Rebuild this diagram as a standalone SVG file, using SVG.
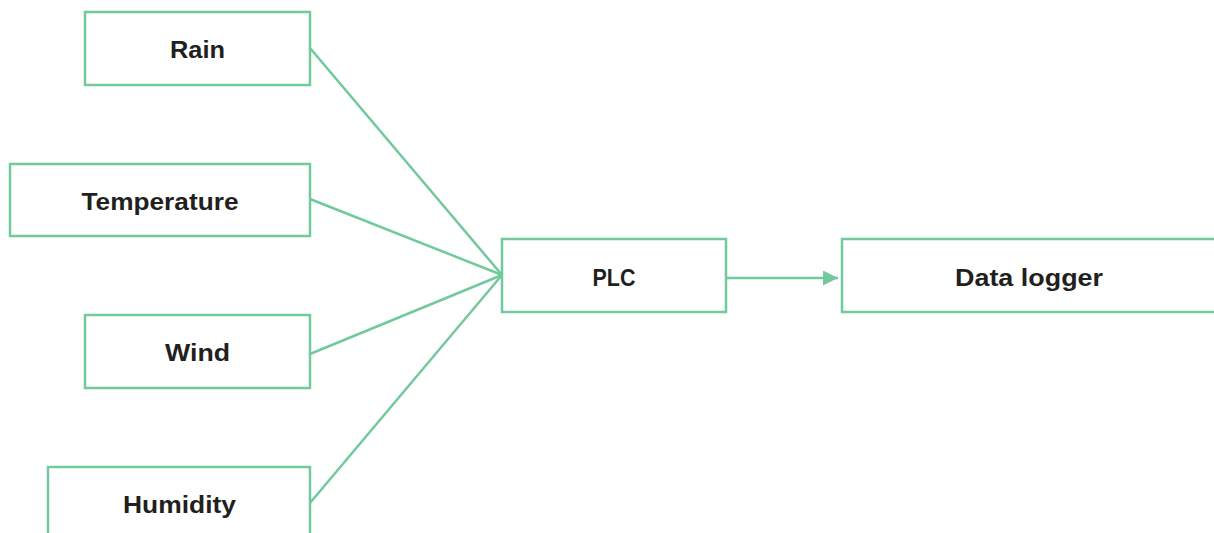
<svg xmlns="http://www.w3.org/2000/svg" width="1214" height="533" viewBox="0 0 1214 533">
<style>
.box{fill:#ffffff;stroke:#72c99b;stroke-width:2.5}
.lbl{font-family:"Liberation Sans",Arial,sans-serif;font-weight:bold;font-size:24px;fill:#231f20;text-anchor:middle}
.conn{stroke:#72c99b;stroke-width:2.5;fill:none}
</style>
<defs>
<marker id="arr" viewBox="0 0 10 10" refX="10" refY="5" markerWidth="7" markerHeight="6" markerUnits="strokeWidth" orient="auto">
<path d="M0,0 L10,5 L0,10 z" fill="#72c99b"/>
</marker>
</defs>
<rect x="0" y="0" width="1214" height="533" fill="#ffffff"/>
<g id="connectors">
<line class="conn" x1="310" y1="48" x2="502" y2="275"/>
<line class="conn" x1="310" y1="199" x2="502" y2="275"/>
<line class="conn" x1="310" y1="354" x2="502" y2="275"/>
<line class="conn" x1="310" y1="503" x2="502" y2="275"/>
<line class="conn" x1="726" y1="278" x2="838" y2="278" marker-end="url(#arr)"/>
</g>
<g id="rain">
<rect class="box" x="85" y="12" width="225" height="73"/>
<text class="lbl" x="197.5" y="58" textLength="55" lengthAdjust="spacingAndGlyphs">Rain</text>
</g>
<g id="temperature">
<rect class="box" x="10" y="164" width="300" height="72"/>
<text class="lbl" x="160" y="210" textLength="157" lengthAdjust="spacingAndGlyphs">Temperature</text>
</g>
<g id="wind">
<rect class="box" x="85" y="315" width="225" height="73"/>
<text class="lbl" x="197.5" y="361" textLength="65" lengthAdjust="spacingAndGlyphs">Wind</text>
</g>
<g id="humidity">
<rect class="box" x="48" y="467" width="262" height="80"/>
<text class="lbl" x="179.5" y="513" textLength="113" lengthAdjust="spacingAndGlyphs">Humidity</text>
</g>
<g id="plc">
<rect class="box" x="502" y="239" width="224" height="73"/>
<text class="lbl" x="614" y="286" textLength="43" lengthAdjust="spacingAndGlyphs">PLC</text>
</g>
<g id="data-logger">
<rect class="box" x="842" y="239" width="400" height="73"/>
<text class="lbl" x="1029" y="286" textLength="148" lengthAdjust="spacingAndGlyphs">Data logger</text>
</g>
</svg>
